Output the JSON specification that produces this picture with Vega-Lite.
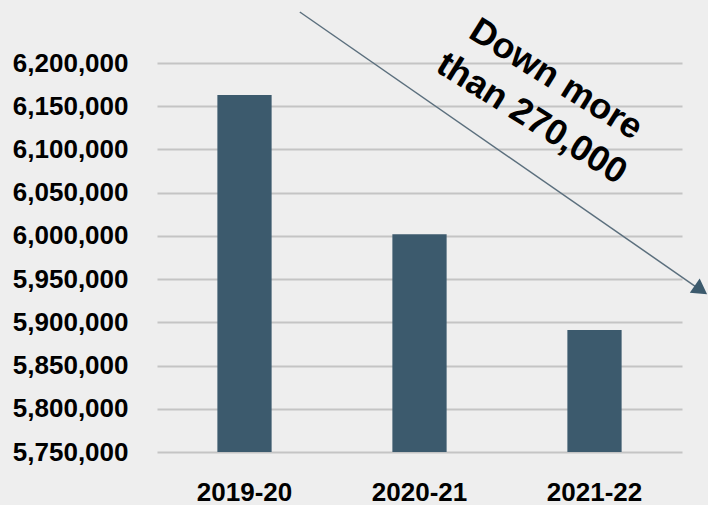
{
  "$schema": "https://vega.github.io/schema/vega-lite/v6.json",
  "width": 525,
  "height": 389,
  "autosize": "none",
  "padding": {"left": 157, "top": 63, "right": 26, "bottom": 53},
  "background": "#eeeeee",
  "config": {
    "view": {"stroke": null},
    "font": "Liberation Sans"
  },
  "datasets": {
    "enroll": [
      {"year": "2019-20", "students": 6163000},
      {"year": "2020-21", "students": 6002000},
      {"year": "2021-22", "students": 5891000}
    ],
    "arrow": [{"x": 0.272, "y": 6259000, "x2": 1.03, "y2": 5939700}],
    "arrowhead": [{"x": 1.036, "y": 5937500}],
    "note": [{"x": 0.76, "y": 6181000, "label": ["Down more", "than 270,000"]}]
  },
  "layer": [
    {
      "data": {"name": "enroll"},
      "mark": {"type": "bar", "color": "#3c5a6d"},
      "encoding": {
        "x": {
          "field": "year",
          "type": "nominal",
          "scale": {"paddingInner": 0.69, "paddingOuter": 0.345},
          "axis": {
            "title": null,
            "labelAngle": 0,
            "domain": false,
            "ticks": false,
            "grid": false,
            "labelFont": "Liberation Sans",
            "labelFontSize": 26,
            "labelFontWeight": "bold",
            "labelColor": "#000000",
            "labelPadding": 27
          }
        },
        "y": {
          "field": "students",
          "type": "quantitative",
          "scale": {"domain": [5750000, 6200000], "nice": false, "zero": false},
          "axis": {
            "title": null,
            "values": [5750000, 5800000, 5850000, 5900000, 5950000, 6000000, 6050000, 6100000, 6150000, 6200000],
            "format": ",.0f",
            "domain": false,
            "ticks": false,
            "grid": true,
            "gridColor": "#c4c4c4",
            "gridWidth": 2,
            "labelFont": "Liberation Sans",
            "labelFontSize": 26,
            "labelFontWeight": "bold",
            "labelColor": "#000000",
            "labelPadding": 29
          }
        },
        "y2": {"datum": 5750000}
      }
    },
    {
      "data": {"name": "arrow"},
      "mark": {"type": "rule", "color": "#5b6f7d", "strokeWidth": 1.5},
      "encoding": {
        "x": {"field": "x", "type": "quantitative", "scale": {"domain": [0, 1]}, "axis": null},
        "x2": {"field": "x2"},
        "y": {"field": "y", "type": "quantitative", "scale": {"domain": [5750000, 6200000], "nice": false, "zero": false},
          "axis": {
            "title": null,
            "values": [5750000, 5800000, 5850000, 5900000, 5950000, 6000000, 6050000, 6100000, 6150000, 6200000],
            "format": ",.0f",
            "domain": false,
            "ticks": false,
            "grid": true,
            "gridColor": "#c4c4c4",
            "gridWidth": 2,
            "labelFont": "Liberation Sans",
            "labelFontSize": 26,
            "labelFontWeight": "bold",
            "labelColor": "#000000",
            "labelPadding": 29
          }},
        "y2": {"field": "y2"}
      }
    },
    {
      "data": {"name": "arrowhead"},
      "mark": {"type": "point", "shape": "triangle-right", "filled": true, "color": "#3c5a6d", "opacity": 1, "size": 300, "angle": 34.8},
      "encoding": {
        "x": {"field": "x", "type": "quantitative", "scale": {"domain": [0, 1]}, "axis": null},
        "y": {"field": "y", "type": "quantitative", "scale": {"domain": [5750000, 6200000], "nice": false, "zero": false},
          "axis": {
            "title": null,
            "values": [5750000, 5800000, 5850000, 5900000, 5950000, 6000000, 6050000, 6100000, 6150000, 6200000],
            "format": ",.0f",
            "domain": false,
            "ticks": false,
            "grid": true,
            "gridColor": "#c4c4c4",
            "gridWidth": 2,
            "labelFont": "Liberation Sans",
            "labelFontSize": 26,
            "labelFontWeight": "bold",
            "labelColor": "#000000",
            "labelPadding": 29
          }}
      }
    },
    {
      "data": {"name": "note"},
      "mark": {"type": "text", "align": "center", "baseline": "middle", "angle": 32, "font": "Liberation Sans", "fontSize": 36, "fontWeight": "bold", "lineHeight": 46, "color": "#000000"},
      "encoding": {
        "x": {"field": "x", "type": "quantitative", "scale": {"domain": [0, 1]}, "axis": null},
        "y": {"field": "y", "type": "quantitative", "scale": {"domain": [5750000, 6200000], "nice": false, "zero": false},
          "axis": {
            "title": null,
            "values": [5750000, 5800000, 5850000, 5900000, 5950000, 6000000, 6050000, 6100000, 6150000, 6200000],
            "format": ",.0f",
            "domain": false,
            "ticks": false,
            "grid": true,
            "gridColor": "#c4c4c4",
            "gridWidth": 2,
            "labelFont": "Liberation Sans",
            "labelFontSize": 26,
            "labelFontWeight": "bold",
            "labelColor": "#000000",
            "labelPadding": 29
          }},
        "text": {"field": "label"}
      }
    }
  ],
  "resolve": {"scale": {"x": "independent"}}
}
